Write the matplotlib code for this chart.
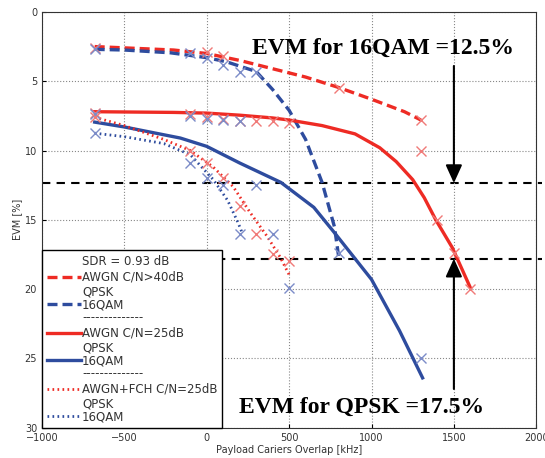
import matplotlib
matplotlib.use("Agg")
import matplotlib.pyplot as plt

# curvas (ajustes)
x_r40 = [-680, -200, 0, 200, 400, 600, 800, 1000, 1200, 1300]
y_r40 = [2.5, 2.75, 3.0, 3.5, 4.1, 4.7, 5.45, 6.3, 7.2, 7.8]
x_b40 = [-680, -500, -220, 0, 120, 300, 400, 500, 600, 700, 775, 800]
y_b40 = [2.7, 2.75, 2.95, 3.3, 3.6, 4.3, 5.6, 7.1, 9.2, 12.3, 15.5, 17.6]
x_r25 = [-680, -200, 0, 200, 400, 500, 700, 900, 1050, 1150, 1250, 1320, 1390, 1490, 1600]
y_r25 = [7.2, 7.25, 7.3, 7.45, 7.65, 7.8, 8.2, 8.8, 9.8, 10.8, 12.1, 13.4, 15.0, 17.0, 19.9]
x_b25 = [-680, -500, -160, 0, 200, 450, 650, 780, 1000, 1170, 1310]
y_b25 = [7.95, 8.3, 9.1, 9.7, 10.9, 12.3, 14.1, 16.0, 19.3, 23.0, 26.4]
x_rfch = [-680, -500, -260, -100, 40, 160, 265, 367, 446, 506]
y_rfch = [7.6, 8.2, 9.2, 10.0, 11.2, 12.6, 14.5, 16.2, 17.7, 19.1]
x_bfch = [-680, -500, -260, -100, 40, 127, 190, 217]
y_bfch = [8.75, 9.0, 9.5, 10.3, 12.1, 13.6, 15.2, 16.0]

# puntos medidos
mx_r40 = [-680, 0, 100, 800, 1300]
my_r40 = [2.6, 2.9, 3.2, 5.5, 7.8]
mx_b40 = [-680, -100, 0, 100, 200, 300, 800]
my_b40 = [2.7, 3.0, 3.3, 3.8, 4.3, 4.3, 17.4]
mx_r25 = [-680, -100, 0, 100, 200, 300, 400, 500, 1300, 1400, 1500, 1600]
my_r25 = [7.3, 7.4, 7.6, 7.7, 7.85, 7.9, 7.9, 8.0, 10.0, 15.0, 17.4, 20.0]
mx_b25 = [-680, -100, 0, 100, 200, 1300]
my_b25 = [7.4, 7.5, 7.75, 7.8, 7.9, 25.0]
mx_rfch = [-680, -100, 0, 100, 200, 300, 400, 500]
my_rfch = [7.6, 10.0, 10.9, 12.0, 14.0, 16.0, 17.5, 18.0]
mx_bfch = [-680, -100, 0, 100, 200, 300, 400, 500]
my_bfch = [8.75, 10.9, 12.0, 12.5, 16.0, 12.5, 16.0, 19.9]

evm_16qam = 12.35
evm_qpsk = 17.8

rojo = "#EE2B24"
azul = "#2E4C9E"
rojo_m = "#F07A78"
azul_m = "#7C8CC8"

fig = plt.figure(figsize=(5.45, 4.58), dpi=100)
ax = fig.add_axes([0.077, 0.066, 0.907, 0.908])

ax.plot(x_r40, y_r40, "--", color=rojo, lw=2.4, dashes=(3, 1.5),
        label="SDR = 0.93 dB\nAWGN C/N>40dB\nQPSK")
ax.plot(x_b40, y_b40, "--", color=azul, lw=2.4, dashes=(3, 1.5), label="16QAM")
ax.plot(x_r25, y_r25, "-", color=rojo, lw=2.4,
        label="--------------\nAWGN C/N=25dB\nQPSK")
ax.plot(x_b25, y_b25, "-", color=azul, lw=2.4, label="16QAM")
ax.plot(x_rfch, y_rfch, color=rojo, lw=2.0, linestyle=(0, (0.6, 1.2)),
        label="--------------\nAWGN+FCH C/N=25dB\nQPSK")
ax.plot(x_bfch, y_bfch, color=azul, lw=2.0, linestyle=(0, (0.6, 1.2)), label="16QAM")

for mx, my, c in [(mx_r40, my_r40, rojo_m), (mx_b40, my_b40, azul_m),
                  (mx_r25, my_r25, rojo_m), (mx_b25, my_b25, azul_m),
                  (mx_rfch, my_rfch, rojo_m), (mx_bfch, my_bfch, azul_m)]:
    ax.plot(mx, my, "x", color=c, ms=7, mew=1.0, ls="none")

# umbrales
for yv in [evm_16qam, evm_qpsk]:
    ax.axhline(yv, xmin=0, xmax=1.012, color="black", lw=1.5, ls="--",
               dashes=(4, 3), clip_on=False, zorder=1)

ax.annotate("", xy=(1500, evm_16qam), xytext=(1500, 3.9),
            arrowprops=dict(arrowstyle="-|>,head_length=1.1,head_width=0.5",
                            mutation_scale=10, lw=1.5, color="black",
                            shrinkA=0, shrinkB=0))
ax.annotate("", xy=(1500, evm_qpsk), xytext=(1500, 27.2),
            arrowprops=dict(arrowstyle="-|>,head_length=1.1,head_width=0.5",
                            mutation_scale=10, lw=1.5, color="black",
                            shrinkA=0, shrinkB=0))
ax.text(1072, 2.65, "EVM for 16QAM =12.5%", ha="center", va="center",
        family="Liberation Serif", weight="bold", fontsize=17)
ax.text(940, 28.5, "EVM for QPSK =17.5%", ha="center", va="center",
        family="Liberation Serif", weight="bold", fontsize=17)

ax.set_xlim(-1000, 2000)
ax.set_ylim(30, 0)
ax.set_xticks(range(-1000, 2001, 500))
ax.set_yticks(range(0, 31, 5))
ax.grid(True, color="#888888", ls=":", lw=0.8)
ax.tick_params(direction="in", labelsize=7, labelcolor="#333333", length=3)
for s in ax.spines.values():
    s.set_color("#333333")
ax.set_xlabel("Payload Cariers Overlap [kHz]", fontsize=7, color="#333333", labelpad=2)
ax.set_ylabel("EVM [%]", fontsize=7, color="#333333", labelpad=2)

leg = ax.legend(loc="lower left", borderaxespad=0, fontsize=8.5, labelspacing=0,
                handlelength=2.9, handletextpad=0.1, fancybox=False,
                edgecolor="black", framealpha=1, borderpad=0.4)
leg.get_frame().set_linewidth(1.0)
for t in leg.get_texts():
    t.set_color("#333333")

plt.savefig("out.png", dpi=100)
